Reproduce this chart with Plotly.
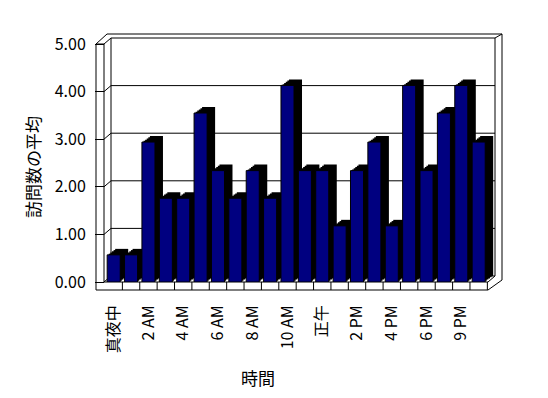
import plotly.graph_objects as go

# ---- data ----
categories = ["真夜中", "1 AM", "2 AM", "3 AM", "4 AM", "5 AM", "6 AM", "7 AM",
              "8 AM", "9 AM", "10 AM", "11 AM", "正午", "1 PM", "2 PM", "3 PM",
              "4 PM", "5 PM", "6 PM", "7 PM", "9 PM", "10 PM"]
avg_visits = [0.57, 0.57, 2.94, 1.76, 1.76, 3.55, 2.34, 1.76, 2.34, 1.76, 4.13,
              2.34, 2.34, 1.18, 2.34, 2.94, 1.18, 4.13, 2.34, 3.55, 4.13, 2.94]
tick_labels = ["真夜中", "2 AM", "4 AM", "6 AM", "8 AM", "10 AM", "正午",
               "2 PM", "4 PM", "6 PM", "9 PM"]
y_ticks = [0, 1, 2, 3, 4, 5]

# ---- geometry (screen pixels; page body has an 8px margin) ----
OFF = 8
SW, SH = 548, 398
L, R, T, B = 105, 500, 44, 282
PW, PH = R - L, B - T
N = len(categories)
pitch = 17.38
x_max = -0.5 + PW / pitch
bar_w = 0.75
DX, DY = 8, 6
FONT = "Noto Sans CJK JP"


def px(x):
    return (x - L) / PW


def py(y):
    return (B - y) / PH


def yf(v):
    return B - v * PH / 5


fig = go.Figure()
# depth (side/top) of each bar, drawn as stacked offsets
for s in [1.0, 0.8, 0.6, 0.4, 0.2]:
    fig.add_bar(x=categories, y=avg_visits, base=DY * s * 5 / PH,
                offset=-bar_w / 2 + DX * s / pitch, width=bar_w,
                marker=dict(color="black", line=dict(width=0)),
                hoverinfo="skip", showlegend=False)
# front faces
fig.add_bar(x=categories, y=avg_visits, width=bar_w,
            marker=dict(color="#000080", line=dict(color="black", width=1)),
            showlegend=False)

shapes = []


def seg(x0, y0, x1, y1):
    shapes.append(dict(type="line", xref="paper", yref="paper",
                       x0=px(x0), y0=py(y0), x1=px(x1), y1=py(y1),
                       line=dict(color="black", width=1), layer="below"))


# left wall
seg(96, 44, 96, 290)
seg(104, 44, 104, 282)
seg(96, 44, 104, 44)
seg(96, 44, 107, 34)
seg(104, 44, 111, 38)
# top of back wall
seg(107, 34, 502, 34)
seg(111, 38, 495, 38)
seg(495, 38, 502, 34)
# right side
seg(502, 34, 502, 280)
seg(495, 38, 495, 276)
seg(502, 280, 488, 290)
seg(495, 276, 488, 282)
# back wall
seg(111, 38, 111, 276)
seg(111, 276, 495, 276)
seg(104, 282, 111, 276)
# floor front
seg(104, 282, 488, 282)
seg(96, 290, 488, 290)
for k in range(1, N + 1):
    xk = L + pitch * k
    seg(xk, 282, xk, 290)
# gridlines
for v in y_ticks[1:-1]:
    y0 = yf(v)
    seg(104, y0, 111, y0 - DY)
    seg(111, y0 - DY, 495, y0 - DY)

FW, FH = SW - OFF, SH - OFF
fig.update_layout(
    width=FW, height=FH,
    margin=dict(l=L - OFF, r=FW - (R - OFF), t=T - OFF, b=FH - (B - OFF),
                pad=0, autoexpand=False),
    paper_bgcolor="white", plot_bgcolor="rgba(0,0,0,0)",
    barmode="overlay",
    font=dict(family=FONT, size=16, color="black"),
    shapes=shapes,
    xaxis=dict(type="category", range=[-0.5, x_max], showgrid=False,
               zeroline=False, showline=False, ticks="", automargin=False,
               tickvals=categories[::2], ticktext=tick_labels,
               tickangle=-90, ticklabelstandoff=19,
               tickfont=dict(family=FONT, size=16)),
    yaxis=dict(range=[0, 5], tickvals=y_ticks, tickformat=".2f",
               showgrid=False, zeroline=False, showline=False, automargin=False,
               ticks="outside", ticklen=9, tickcolor="black", tickwidth=1,
               ticklabelstandoff=6, tickfont=dict(family=FONT, size=16)),
    annotations=[
        dict(text="時間", xref="paper", yref="paper", x=px(258), y=py(377),
             xanchor="center", yanchor="middle", showarrow=False,
             font=dict(family=FONT, size=17)),
        dict(text="訪問数の平均", xref="paper", yref="paper", x=px(32), y=py(167),
             xanchor="center", yanchor="middle", showarrow=False, textangle=-90,
             font=dict(family=FONT, size=17)),
    ],
)

fig.write_html("out.html")
